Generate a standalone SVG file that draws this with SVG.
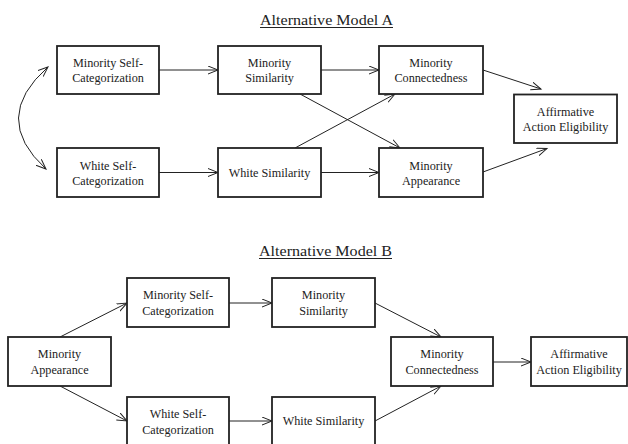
<svg xmlns="http://www.w3.org/2000/svg" width="628" height="444" viewBox="0 0 628 444">
<defs>
<marker id="arr" markerUnits="userSpaceOnUse" markerWidth="12" markerHeight="10" refX="10" refY="4.5" orient="auto-start-reverse" viewBox="0 0 12 10">
<path d="M0,0.5 L10,4.5 L0,8.5" fill="none" stroke="#222" stroke-width="1"/>
</marker>
<style>
.box{fill:#fff;stroke:#222;stroke-width:1.8}
.t{font-family:'Liberation Serif','Times New Roman','DejaVu Serif',serif;font-size:12.2px;fill:#222;text-anchor:middle}
.title{font-family:'Liberation Serif','Times New Roman','DejaVu Serif',serif;font-size:15px;fill:#222;text-anchor:middle}
.c{fill:none;stroke:#222;stroke-width:1;marker-end:url(#arr)}
</style>
</defs>
<rect width="628" height="444" fill="#fff"/>
<g id="titleA"><text class="title" x="326.5" y="25" textLength="133" lengthAdjust="spacingAndGlyphs">Alternative Model A</text><line x1="260" y1="27.5" x2="393" y2="27.5" stroke="#222" stroke-width="1"/></g>
<g id="titleB"><text class="title" x="325.5" y="256" textLength="133" lengthAdjust="spacingAndGlyphs">Alternative Model B</text><line x1="259" y1="258.5" x2="392" y2="258.5" stroke="#222" stroke-width="1"/></g>

<g id="connectorsA">
<path class="c" d="M159,70 L218,70"/>
<path class="c" d="M321,70 L379,70"/>
<path class="c" d="M159,172.5 L218,172.5"/>
<path class="c" d="M321,172.5 L379,172.5"/>
<path class="c" d="M483,70 L541,89"/>
<path class="c" d="M483,172 L547,148.5"/>
<path class="c" d="M300,94 L400,148"/>
<path class="c" d="M295,148 L395,94"/>
<path class="c" d="M48,67 Q-10,118 46,169" style="marker-start:url(#arr)"/>
</g>
<g id="connectorsB">
<path class="c" d="M229,303 L272,303"/>
<path class="c" d="M229,421 L272,421"/>
<path class="c" d="M60,337 L127,303"/>
<path class="c" d="M60,386 L127,421"/>
<path class="c" d="M375,303 L441,337"/>
<path class="c" d="M375,421 L441,386"/>
<path class="c" d="M493,362 L531,362"/>
</g>

<g id="a_msc"><rect class="box" x="57" y="46" width="102" height="48"/><text class="t" x="108" y="66.5">Minority Self-</text><text class="t" x="108" y="82">Categorization</text></g>
<g id="a_msim"><rect class="box" x="218" y="46" width="103" height="48"/><text class="t" x="269.5" y="66.5">Minority</text><text class="t" x="269.5" y="82">Similarity</text></g>
<g id="a_mconn"><rect class="box" x="379" y="46" width="104" height="48"/><text class="t" x="431" y="66.5">Minority</text><text class="t" x="431" y="82">Connectedness</text></g>
<g id="a_aae"><rect class="box" x="514" y="94.5" width="103" height="48.5"/><text class="t" x="565.5" y="115.5">Affirmative</text><text class="t" x="565.5" y="131">Action Eligibility</text></g>
<g id="a_wsc"><rect class="box" x="57" y="148" width="102" height="49"/><text class="t" x="108" y="169.5">White Self-</text><text class="t" x="108" y="185">Categorization</text></g>
<g id="a_wsim"><rect class="box" x="218" y="148" width="103" height="49"/><text class="t" x="269.5" y="177">White Similarity</text></g>
<g id="a_mapp"><rect class="box" x="379" y="148" width="104" height="49"/><text class="t" x="431" y="169.5">Minority</text><text class="t" x="431" y="185">Appearance</text></g>

<g id="b_mapp"><rect class="box" x="8" y="337" width="103" height="49"/><text class="t" x="59.5" y="358">Minority</text><text class="t" x="59.5" y="373.5">Appearance</text></g>
<g id="b_msc"><rect class="box" x="127" y="278" width="102" height="49"/><text class="t" x="178" y="299">Minority Self-</text><text class="t" x="178" y="314.5">Categorization</text></g>
<g id="b_msim"><rect class="box" x="272" y="278" width="103" height="49"/><text class="t" x="323.5" y="299">Minority</text><text class="t" x="323.5" y="314.5">Similarity</text></g>
<g id="b_wsc"><rect class="box" x="127" y="397" width="102" height="49"/><text class="t" x="178" y="418">White Self-</text><text class="t" x="178" y="433.5">Categorization</text></g>
<g id="b_wsim"><rect class="box" x="272" y="397" width="103" height="49"/><text class="t" x="323.5" y="425">White Similarity</text></g>
<g id="b_mconn"><rect class="box" x="391" y="337" width="102" height="49"/><text class="t" x="442" y="358">Minority</text><text class="t" x="442" y="373.5">Connectedness</text></g>
<g id="b_aae"><rect class="box" x="531" y="337" width="96" height="49"/><text class="t" x="579" y="358">Affirmative</text><text class="t" x="579" y="373.5">Action Eligibility</text></g>
</svg>
